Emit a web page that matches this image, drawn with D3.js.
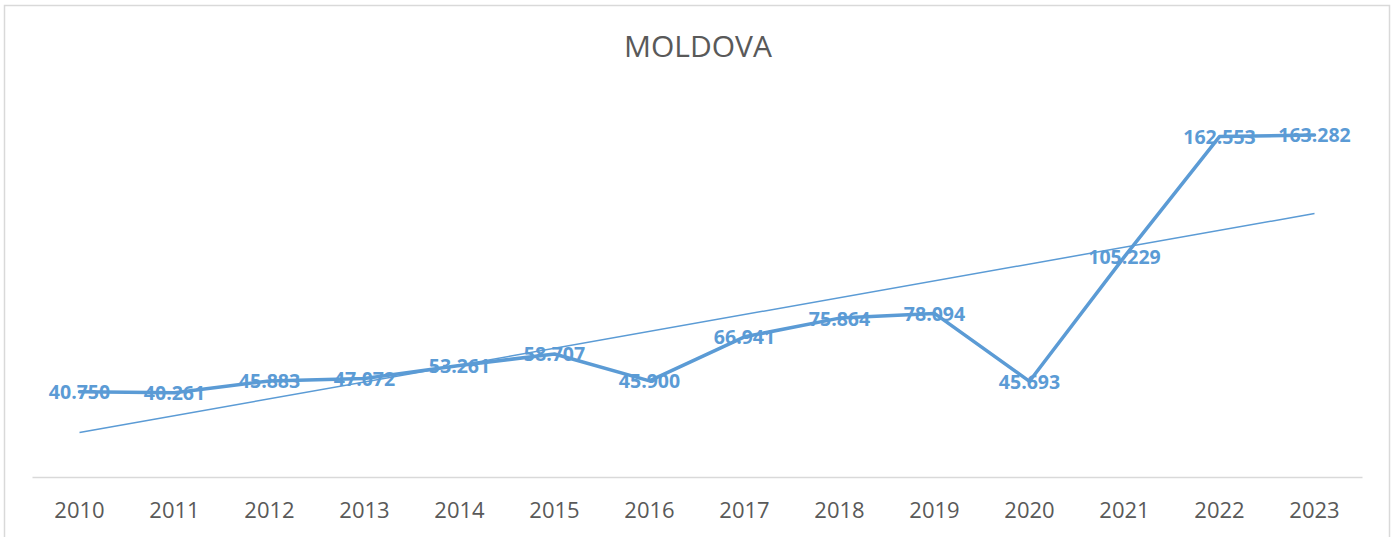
<!DOCTYPE html>
<html>
<head>
<meta charset="utf-8">
<script src="https://cdn.jsdelivr.net/npm/d3@7"></script>
<style>
  html, body { margin: 0; padding: 0; background: #fff; }
  svg { display: block; }
</style>
</head>
<body>
<div id="chart"></div>
<script>
const years = ["2010", "2011", "2012", "2013", "2014", "2015", "2016", "2017", "2018", "2019", "2020", "2021", "2022", "2023"];
const values = [40.750, 40.261, 45.883, 47.072, 53.261, 58.707, 45.900, 66.941, 75.864, 78.094, 45.693, 105.229, 162.553, 163.282];
const yDomain = [0, 180];
const title = "MOLDOVA";

const W = 1400;
const H = 537;
const margin = { top: 100, right: 38, bottom: 60, left: 32 };
const color = "#5B9BD5";
const textColor = "#595959";

const svg = d3
  .select("#chart")
  .append("svg")
  .attr("width", W)
  .attr("height", H);

// outer chart frame (bottom edge is off the picture)
svg
  .append("rect")
  .attr("x", 4.5)
  .attr("y", 5.5)
  .attr("width", 1385)
  .attr("height", 560)
  .attr("fill", "#fff")
  .attr("stroke", "#d9d9d9")
  .attr("stroke-width", 1.5);

svg
  .append("text")
  .attr("x", 698)
  .attr("y", 57)
  .attr("text-anchor", "middle")
  .attr("fill", textColor)
  .style("font-family", "'Open Sans', sans-serif")
  .style("font-size", "30px")
  .text(title);

const X = d3
  .scaleBand()
  .domain(years)
  .range([margin.left, W - margin.right]);

const Y = d3
  .scaleLinear()
  .domain(yDomain)
  .range([H - margin.bottom, margin.top]);

const cx = (d) => X(d) + X.bandwidth() / 2;

// category axis
const axis = svg
  .append("g")
  .attr("class", "axis")
  .attr("transform", `translate(0, ${Y(0)})`)
  .call(d3.axisBottom(X).tickSize(0).tickPadding(25));
axis.select(".domain").attr("stroke", "#d9d9d9").attr("stroke-width", 1.5);
axis
  .selectAll("text")
  .attr("fill", textColor)
  .style("font-family", "'Open Sans', sans-serif")
  .style("font-size", "22px");

const data = years.map((y, i) => ({ year: y, value: values[i] }));

// linear trend line, least squares on the category index
const n = values.length;
const xm = d3.mean(values, (d, i) => i + 1);
const ym = d3.mean(values);
const slope =
  d3.sum(values, (d, i) => (i + 1 - xm) * (d - ym)) /
  d3.sum(values, (d, i) => (i + 1 - xm) ** 2);
const intercept = ym - slope * xm;
const trend = [
  { year: years[0], value: intercept + slope * 1 },
  { year: years[n - 1], value: intercept + slope * n },
];

svg
  .append("path")
  .datum(trend)
  .attr("fill", "none")
  .attr("stroke", color)
  .attr("stroke-width", 1.5)
  .attr(
    "d",
    d3
      .line()
      .x((d) => cx(d.year))
      .y((d) => Y(d.value))
  );

// data labels
svg
  .append("g")
  .selectAll("text")
  .data(data)
  .join("text")
  .attr("x", (d) => cx(d.year))
  .attr("y", (d) => Y(d.value))
  .attr("dy", "0.38em")
  .attr("text-anchor", "middle")
  .attr("fill", color)
  .style("font-family", "'Open Sans', sans-serif")
  .style("font-weight", "bold")
  .style("font-size", "19.5px")
  .text((d) => d3.format(".3f")(d.value));

svg
  .append("path")
  .datum(data)
  .attr("fill", "none")
  .attr("stroke", color)
  .attr("stroke-width", 3.5)
  .attr("stroke-linejoin", "round")
  .attr("stroke-linecap", "round")
  .attr(
    "d",
    d3
      .line()
      .x((d) => cx(d.year))
      .y((d) => Y(d.value))
  );
</script>
</body>
</html>
